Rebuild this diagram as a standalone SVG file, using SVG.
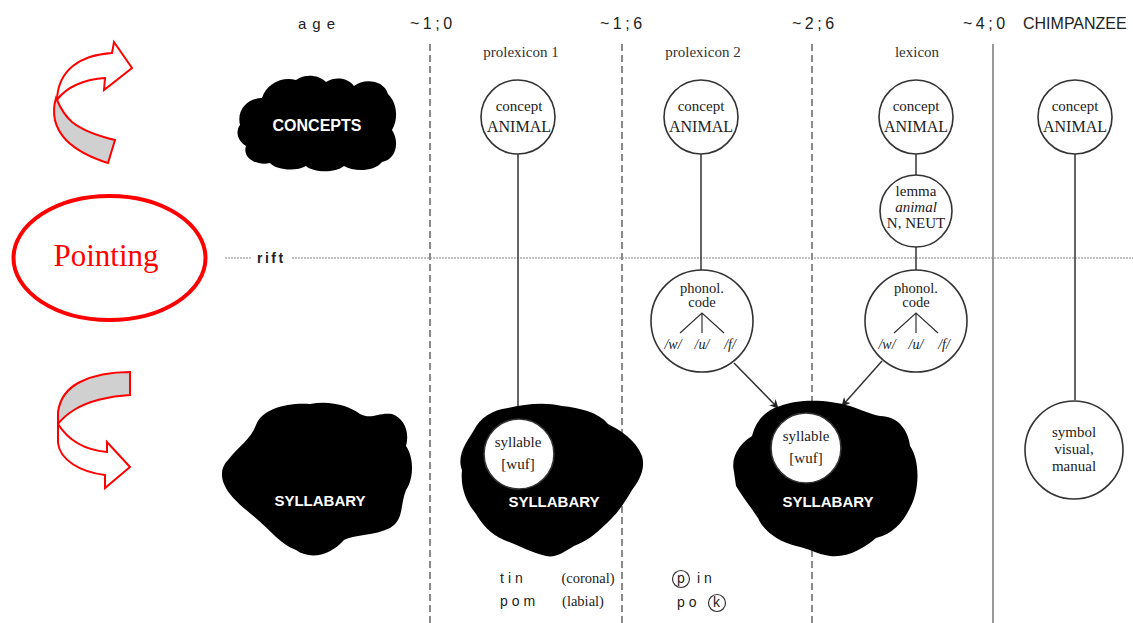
<svg xmlns="http://www.w3.org/2000/svg" width="1133" height="623" viewBox="0 0 1133 623">
<defs>
<style>
.hdr{font-family:"Liberation Sans",Arial,sans-serif;font-size:16px;fill:#222}
.sub{font-family:"Liberation Serif","Times New Roman",serif;font-size:15px;fill:#333;text-anchor:middle}
.ser{font-family:"Liberation Serif","Times New Roman",serif;fill:#222;text-anchor:middle}
.blobtxt{font-family:"Liberation Sans",Arial,sans-serif;font-weight:bold;font-size:15px;fill:#fff;text-anchor:middle}
.blob{fill:#000}
.node{fill:#fff;stroke:#333;stroke-width:1.6}
.col{stroke:#666;stroke-width:1.5;stroke-dasharray:7 4;fill:none}
.link{stroke:#333;stroke-width:1.5;fill:none}
.red{fill:none;stroke:#f00;stroke-width:2}
.snd{font-family:"Liberation Sans",Arial,sans-serif;font-size:14px;fill:#222;letter-spacing:4px}
.ph{font-family:"Liberation Serif","Times New Roman",serif;fill:#222;text-anchor:middle;font-size:14px;font-style:italic}
</style>
<marker id="arr" viewBox="0 0 10 10" refX="9" refY="5" markerWidth="9" markerHeight="9" markerUnits="userSpaceOnUse" orient="auto">
<path d="M0,0 L10,5 L0,10 L3,5 Z" fill="#222"/>
</marker>
</defs>
<rect width="1133" height="623" fill="#fff"/>

<g id="grid">
<line class="col" x1="430" y1="44" x2="430" y2="623"/>
<line class="col" x1="622" y1="44" x2="622" y2="623"/>
<line class="col" x1="812" y1="44" x2="812" y2="623"/>
<line x1="993" y1="44" x2="993" y2="623" stroke="#777" stroke-width="1.5"/>
<line x1="225" y1="258" x2="251" y2="258" stroke="#888" stroke-width="1.2" stroke-dasharray="2 1"/>
<line x1="292" y1="258" x2="1133" y2="258" stroke="#888" stroke-width="1.2" stroke-dasharray="2 1"/>
<text x="257" y="263" style="font-family:'Liberation Sans',Arial,sans-serif;font-size:14px;font-weight:bold;fill:#222;letter-spacing:2.5px">rift</text>
</g>

<g id="headers">
<text class="hdr" x="298" y="29" style="letter-spacing:6px;font-size:15px">age</text>
<text class="hdr" x="410" y="29" style="letter-spacing:3.5px">~1;0</text>
<text class="hdr" x="600" y="29" style="letter-spacing:3.5px">~1;6</text>
<text class="hdr" x="792" y="29" style="letter-spacing:3.5px">~2;6</text>
<text class="hdr" x="963" y="29" style="letter-spacing:3.5px">~4;0</text>
<text class="hdr" x="1023" y="29">CHIMPANZEE</text>
<text class="sub" x="521" y="57">prolexicon 1</text>
<text class="sub" x="703" y="57">prolexicon 2</text>
<text class="sub" x="917" y="57">lexicon</text>
</g>

<g id="arrow-top">
<path class="red" d="M57,100 C58,70 80,55 112,53 L114,42 L132,68 L104,90 L105,78 C85,79 66,87 57,100 Z" style="fill:#fff"/>
<path class="red" d="M56,98 C51,115 55,128 66,140 C78,152 92,158 108,163 L115,140 C98,136 82,130 72,122 C64,115 60,107 57,100 Z" style="fill:#d0d0d0"/>
</g>
<g id="pointing">
<ellipse cx="109.5" cy="258" rx="96" ry="62" fill="none" stroke="#f00" stroke-width="4"/>
<text x="106" y="266" style="font-family:'Liberation Serif','Times New Roman',serif;font-size:31px;fill:#f00;text-anchor:middle">Pointing</text>
</g>
<g id="arrow-bottom">
<path class="red" d="M130,372 L130,395 C110,396 88,401 74,410 C66,415 61,420 58,424 L58,412 C60,398 68,388 80,382 C94,375 112,372 130,372 Z" style="fill:#d0d0d0"/>
<path class="red" d="M58,424 L58,443 C60,460 80,472 105,475 L105,488 L130,467 L107,442 L107,452 C85,450 68,440 58,424 Z" style="fill:#fff"/>
</g>

<g id="connectors">
<line class="link" x1="518" y1="154" x2="518" y2="420"/>
<line class="link" x1="701" y1="154" x2="701" y2="270"/>
<line class="link" x1="916" y1="154" x2="916" y2="175"/>
<line class="link" x1="916" y1="247" x2="916" y2="270"/>
<line class="link" x1="1075" y1="154" x2="1075" y2="400"/>
<line class="link" x1="734" y1="363" x2="778" y2="408" marker-end="url(#arr)"/>
<line class="link" x1="882" y1="361" x2="842" y2="406" marker-end="url(#arr)"/>
</g>

<g id="concepts">
<path class="blob" d="M240,125 C236,108 250,98 262,98 C266,84 282,76 296,80 C304,74 318,74 326,82 C336,76 348,78 354,86 C364,78 384,80 388,94 C398,104 398,120 392,130 C400,142 396,160 382,162 C374,172 354,172 344,166 C334,174 312,172 306,166 C296,172 276,170 270,163 C256,166 242,158 246,146 C236,140 236,130 240,125 Z"/>
<text class="blobtxt" x="317" y="131" style="font-size:16px">CONCEPTS</text>
</g>
<g id="syllabary-0">
<path class="blob" d="M228,460 C240,445 250,440 256,425 C262,408 290,402 310,404 C330,400 350,406 360,414 C372,420 378,412 392,414 C404,418 410,432 406,446 C414,458 414,478 406,490 C400,505 404,520 390,528 C374,536 356,534 344,540 C330,556 310,560 296,550 C280,544 270,530 258,520 C244,508 230,498 224,484 C220,474 222,466 228,460 Z"/>
<text class="blobtxt" x="320" y="506">SYLLABARY</text>
</g>
<g id="syllabary-1">
<path class="blob" d="M462,470 C456,455 468,440 474,430 C480,418 492,410 508,408 C525,404 545,402 562,406 C580,408 598,412 608,424 C620,430 636,440 642,456 C646,470 638,482 632,490 C626,500 620,510 612,518 C600,530 590,540 574,546 C564,552 556,558 546,556 C530,552 520,546 504,540 C490,534 482,524 476,514 C468,504 460,490 462,470 Z"/>
<text class="blobtxt" x="554" y="507">SYLLABARY</text>
</g>
<g id="syllable-1">
<circle class="node" cx="519" cy="454" r="35"/>
<text class="ser" x="518" y="447" style="font-size:15px">syllable</text>
<text class="ser" x="518" y="469" style="font-size:15px">[wuf]</text>
</g>
<g id="syllabary-2">
<path class="blob" d="M734,472 C730,455 742,442 752,436 C756,420 766,410 780,406 C800,398 830,400 850,406 C862,410 870,414 880,416 C898,416 908,430 910,446 C920,460 920,490 910,508 C902,524 892,534 876,538 C864,548 848,558 830,556 C816,554 808,548 796,546 C780,542 764,532 758,518 C750,506 742,496 736,486 Z"/>
<text class="blobtxt" x="828" y="507">SYLLABARY</text>
</g>
<g id="syllable-2">
<circle class="node" cx="806" cy="448" r="35"/>
<text class="ser" x="806" y="441" style="font-size:15px">syllable</text>
<text class="ser" x="806" y="463" style="font-size:15px">[wuf]</text>
</g>

<g id="concept-1">
<circle class="node" cx="518" cy="117" r="37"/>
<text class="ser" x="519" y="111" style="font-size:15px">concept</text>
<text class="ser" x="519" y="132" style="font-size:16px">ANIMAL</text>
</g>
<g id="concept-2">
<circle class="node" cx="701" cy="117" r="37"/>
<text class="ser" x="701" y="111" style="font-size:15px">concept</text>
<text class="ser" x="701" y="132" style="font-size:16px">ANIMAL</text>
</g>
<g id="concept-3">
<circle class="node" cx="916" cy="117" r="37"/>
<text class="ser" x="916" y="111" style="font-size:15px">concept</text>
<text class="ser" x="916" y="132" style="font-size:16px">ANIMAL</text>
</g>
<g id="concept-4">
<circle class="node" cx="1075" cy="117" r="37"/>
<text class="ser" x="1075" y="111" style="font-size:15px">concept</text>
<text class="ser" x="1075" y="132" style="font-size:16px">ANIMAL</text>
</g>

<g id="lemma">
<circle class="node" cx="916" cy="211" r="36"/>
<text class="ser" x="916" y="196" style="font-size:15px">lemma</text>
<text class="ser" x="916" y="212" style="font-size:15px;font-style:italic">animal</text>
<text class="ser" x="916" y="228" style="font-size:15px">N, NEUT</text>
</g>

<g id="phonol-2">
<circle class="node" cx="702" cy="321" r="51"/>
<text class="ser" x="702" y="293" style="font-size:14.5px">phonol.</text>
<text class="ser" x="702" y="307" style="font-size:14.5px">code</text>
<path class="link" d="M680,333 L702,313 L724,333 M702,313 L702,333" style="stroke-width:1.2"/>
<text class="ph" x="673" y="349">/w/</text>
<text class="ph" x="702" y="349">/u/</text>
<text class="ph" x="730" y="349">/f/</text>
</g>
<g id="phonol-3">
<circle class="node" cx="916" cy="321" r="51"/>
<text class="ser" x="916" y="293" style="font-size:14.5px">phonol.</text>
<text class="ser" x="916" y="307" style="font-size:14.5px">code</text>
<path class="link" d="M894,333 L916,313 L938,333 M916,313 L916,333" style="stroke-width:1.2"/>
<text class="ph" x="887" y="349">/w/</text>
<text class="ph" x="916" y="349">/u/</text>
<text class="ph" x="944" y="349">/f/</text>
</g>

<g id="symbol">
<circle class="node" cx="1074" cy="450" r="49"/>
<text class="ser" x="1074" y="437" style="font-size:15px">symbol</text>
<text class="ser" x="1074" y="454" style="font-size:15px">visual,</text>
<text class="ser" x="1074" y="471" style="font-size:15px">manual</text>
</g>

<g id="examples">
<text class="snd" x="500" y="583">tin</text>
<text class="ser" x="588" y="583" style="font-size:14.5px">(coronal)</text>
<text class="snd" x="500" y="606">pom</text>
<text class="ser" x="583" y="606" style="font-size:14.5px">(labial)</text>
<circle cx="681" cy="579" r="8.5" fill="none" stroke="#333" stroke-width="1.2"/>
<text class="snd" x="677" y="583">p</text>
<text class="snd" x="697" y="583">in</text>
<text class="snd" x="677" y="607">po</text>
<circle cx="717" cy="603" r="8.5" fill="none" stroke="#333" stroke-width="1.2"/>
<text class="snd" x="713" y="607">k</text>
</g>
</svg>
